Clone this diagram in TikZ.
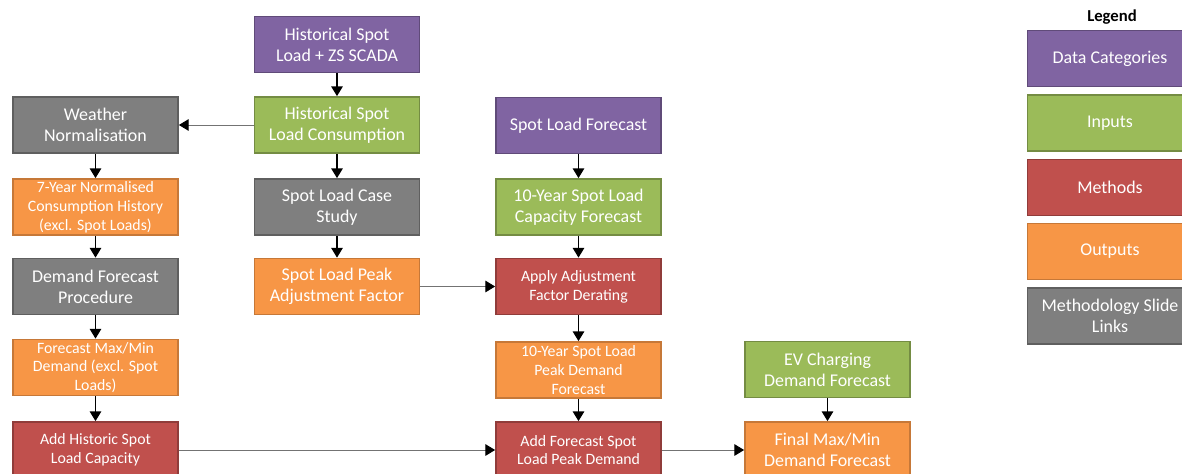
\documentclass[tikz,border=0pt]{standalone}
\usepackage{fontspec}
\setmainfont{Carlito}
\usetikzlibrary{arrows.meta}

\definecolor{catpurple}{HTML}{8064A2}
\definecolor{inpgreen}{HTML}{9BBB59}
\definecolor{methred}{HTML}{C0504D}
\definecolor{outorange}{HTML}{F79646}
\definecolor{linkgray}{HTML}{7F7F7F}

\tikzset{
  box/.style={rectangle, line width=1pt, text=white, align=center,
    minimum width=3.3cm, minimum height=1.12cm, inner sep=1pt,
    font=\fontsize{10.2}{11.9}\selectfont},
  small/.style={font=\fontsize{9}{10.7}\selectfont},
  catbox/.style={box, fill=catpurple, draw=catpurple!75!black},
  inbox/.style={box, fill=inpgreen, draw=inpgreen!75!black},
  methbox/.style={box, fill=methred, draw=methred!75!black},
  outbox/.style={box, fill=outorange, draw=outorange!80!black},
  linkbox/.style={box, fill=linkgray, draw=linkgray!75!black},
  flow/.style={-{Triangle[length=5.5pt,width=6.5pt,color=black]}, line width=0.7pt, black},
  longflow/.style={line width=0.5pt, draw=black!55}
}

\begin{document}
\begin{tikzpicture}[x=0.02cm, y=-0.02cm]
      \useasboundingbox (0,0) rectangle (1182,473);
      \clip (0,0) rectangle (1182,473);
      % left column
      \node[linkbox] (weather) at (95.5,125) {Weather\\Normalisation};
      \node[outbox, small] (norm) at (95.5,207) {7-Year Normalised\\Consumption History\\(excl. Spot Loads)};
      \node[linkbox] (dfp) at (95.5,286.5) {Demand Forecast\\Procedure};
      \node[outbox, small] (fmaxmin) at (95.5,367.5) {Forecast Max/Min\\Demand (excl. Spot\\Loads)};
      \node[methbox, small] (addhist) at (95.5,450) {Add Historic Spot\\Load Capacity};
      % second column
      \node[catbox] (scada) at (337,44.5) {Historical Spot\\Load + ZS SCADA};
      \node[inbox] (cons) at (337,125) {Historical Spot\\Load Consumption};
      \node[linkbox] (case) at (337,207) {Spot Load Case\\Study};
      \node[outbox] (peakadj) at (337,286.5) {Spot Load Peak\\Adjustment Factor};
      % third column
      \node[catbox] (slf) at (578.5,125.5) {Spot Load Forecast};
      \node[inbox] (cap10) at (578.5,207) {10-Year Spot Load\\Capacity Forecast};
      \node[methbox, small] (apply) at (578.5,286.5) {Apply Adjustment\\Factor Derating};
      \node[outbox, small] (peak10) at (578.5,370) {10-Year Spot Load\\Peak Demand\\Forecast};
      \node[methbox, small] (addfc) at (578.5,450) {Add Forecast Spot\\Load Peak Demand};
      % fourth column
      \node[inbox] (ev) at (827.5,369.5) {EV Charging\\Demand Forecast};
      \node[outbox] (final) at (827.5,450) {Final Max/Min\\Demand Forecast};
      % legend
      \node[font=\fontsize{9.5}{11}\selectfont\bfseries] (legend) at (1112,17) {Legend};
      \node[catbox] (lgcat) at (1110,58.5) {Data Categories};
      \node[inbox] (lgin) at (1110,123) {Inputs};
      \node[methbox] (lgmeth) at (1110,187.5) {Methods};
      \node[outbox] (lgout) at (1110,251.5) {Outputs};
      \node[linkbox] (lglink) at (1110,316) {Methodology Slide\\Links};
      \begin{scope}[flow]
        \draw (scada) to (cons);
        \draw[longflow] (cons) to (weather);
        \draw (weather) to (norm);
        \draw (norm) to (dfp);
        \draw (dfp) to (fmaxmin);
        \draw (fmaxmin) to (addhist);
        \draw (cons) to (case);
        \draw (case) to (peakadj);
        \draw[longflow] (peakadj) to (apply);
        \draw (slf) to (cap10);
        \draw (cap10) to (apply);
        \draw (apply) to (peak10);
        \draw (peak10) to (addfc);
        \draw[longflow] (addhist) to (addfc);
        \draw[longflow] (addfc) to (final);
        \draw (ev) to (final);
      \end{scope}
    \end{tikzpicture}
\end{document}
